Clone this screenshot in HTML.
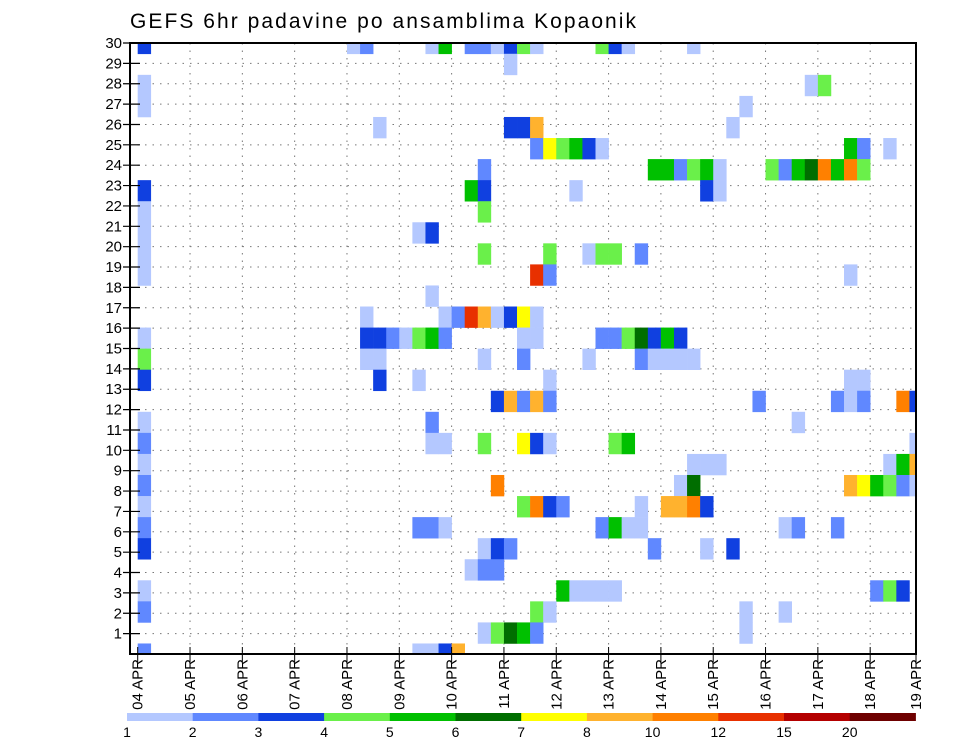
<!DOCTYPE html>
<html><head><meta charset="utf-8"><style>
html,body{margin:0;padding:0;background:#fff;}
svg{display:block;font-family:"Liberation Sans",sans-serif;}
</style></head><body>
<svg id="chart" width="960" height="742" viewBox="0 0 960 742" xmlns="http://www.w3.org/2000/svg">
<text x="130" y="28" font-size="21" fill="#000" textLength="506" lengthAdjust="spacing">GEFS 6hr padavine po ansamblima Kopaonik</text>
<defs><clipPath id="plotclip"><rect x="131" y="44" width="784" height="609"/></clipPath></defs>
<g id="grid"></g>
<g id="cells" clip-path="url(#plotclip)"></g>
<rect x="130" y="43" width="786" height="611" fill="none" stroke="#000" stroke-width="2"/>
<g id="yaxis"></g>
<g id="xaxis"></g>
<g id="cbar"></g>
</svg>
<script>
const members=[29,28,27,26,25,24,23,22,21,20,19,18,17,16,15,14,13,12,11,10,9,8,7,6,5,4,3,2,1,0];
const stepsByMember=[
[0,16,17,22,23,25,26,27,28,29,30,35,36,37,42],
[28],
[0,51,52],
[0,46],
[18,28,29,30,45],
[30,31,32,33,34,35,54,55,57],
[26,39,40,41,42,43,44,48,49,50,51,52,53,54,55],
[0,25,26,33,43,44],
[0,26],
[0,21,22],
[0,26,31,34,35,36,38],
[0,30,31,54],
[22],
[17,23,24,25,26,27,28,29,30],
[0,17,18,19,20,21,22,23,29,30,35,36,37,38,39,40,41],
[0,17,18,26,29,34,38,39,40,41,42],
[0,18,21,31,54,55],
[27,28,29,30,31,47,53,54,55,58,59],
[0,22,50],
[0,22,23,26,29,30,31,36,37,59],
[0,42,43,44,57,58,59],
[0,27,41,42,54,55,56,57,58,59],
[0,29,30,31,32,38,40,41,42,43],
[0,21,22,23,35,36,37,38,49,50,53],
[0,26,27,28,39,43,45],
[25,26,27],
[0,32,33,34,35,36,56,57,58],
[0,30,31,46,49],
[26,27,28,29,30,46],
[0,21,22,23,24]
];
const precipByMember=[
[3.5,1.5,2.5,1.5,5.5,2.5,2.5,1.5,3.5,4.5,1.5,4.5,3.5,1.5,1.5],
[1.5],
[1.5,1.5,4.5],
[1.5,1.5],
[1.5,3.5,3.5,9,1.5],
[2.5,7.5,4.5,5.5,3.5,1.5,5.5,2.5,1.5],
[2.5,5.5,5.5,2.5,4.5,5.5,1.5,4.5,2.5,5.5,6.5,11,5.5,11,4.5],
[3.5,5.5,3.5,1.5,3.5,1.5],
[1.5,4.5],
[1.5,1.5,3.5],
[1.5,4.5,4.5,1.5,4.5,4.5,2.5],
[1.5,13.5,2.5,1.5],
[1.5],
[1.5,1.5,2.5,13.5,9,1.5,3.5,7.5,1.5],
[1.5,3.5,3.5,2.5,1.5,4.5,5.5,2.5,1.5,1.5,2.5,2.5,4.5,6.5,3.5,5.5,3.5],
[4.5,1.5,1.5,1.5,2.5,1.5,2.5,1.5,1.5,1.5,1.5],
[3.5,3.5,1.5,1.5,1.5,1.5],
[3.5,9,2.5,9,2.5,2.5,2.5,1.5,2.5,11,3.5],
[1.5,2.5,1.5],
[2.5,1.5,1.5,4.5,7.5,3.5,1.5,4.5,5.5,1.5],
[1.5,1.5,1.5,1.5,1.5,5.5,9],
[2.5,11,1.5,6.5,9,7.5,5.5,4.5,2.5,1.5],
[1.5,4.5,11,3.5,2.5,1.5,9,9,11,3.5],
[2.5,2.5,2.5,1.5,2.5,5.5,1.5,1.5,1.5,2.5,2.5],
[3.5,1.5,3.5,2.5,2.5,1.5,3.5],
[1.5,2.5,2.5],
[1.5,5.5,1.5,1.5,1.5,1.5,2.5,4.5,3.5],
[2.5,4.5,1.5,1.5,1.5],
[1.5,4.5,6.5,5.5,2.5,1.5],
[2.5,1.5,1.5,3.5,9]
];
const levels=[1,2,3,4,5,6,7,8,10,12,15,20];
const levelLabels=["1","2","3","4","5","6","7","8","10","12","15","20"];
const levelColors=["#b4c8ff","#6088ff","#1040e0","#6af04a","#00c000","#006e00","#ffff00","#ffb22e","#ff8000","#e83000","#b40000","#6e0000"];
const yTicks=[1,2,3,4,5,6,7,8,9,10,11,12,13,14,15,16,17,18,19,20,21,22,23,24,25,26,27,28,29,30];
const dayLabels=["04","05","06","07","08","09","10","11","12","13","14","15","16","17","18","19"];

const NS="http://www.w3.org/2000/svg";
const X0=137.7, STEP=13.08, DAY=STEP*4;
function xStep(s){return X0+STEP*s;}
function xDay(d){return X0+DAY*d;}
function yMember(m){return 654-21.06*m;}
function yAxisVal(v){return 654-(611/30)*v;}
const CELLH=21.06;
function colorFor(v){let c=levelColors[0];for(let i=0;i<levels.length;i++){if(v>=levels[i])c=levelColors[i];}return c;}
function mk(tag,attrs,parent){const e=document.createElementNS(NS,tag);for(const k in attrs)e.setAttribute(k,attrs[k]);parent.appendChild(e);return e;}

const grid=document.getElementById('grid');
for(let v=0;v<=30;v++){
  const l=mk('line',{x1:130,x2:916,y1:yAxisVal(v),y2:yAxisVal(v),stroke:'#777','stroke-width':1,'stroke-dasharray':'1.5,6'},grid);
  
  
}
for(let d=1;d<dayLabels.length;d++){
  const x=xDay(d); if(x>916)continue;
  const l=mk('line',{x1:x,x2:x,y1:43,y2:654,stroke:'#777','stroke-width':1,'stroke-dasharray':'1.5,6'},grid);
  
  
}

const cells=document.getElementById('cells');
members.forEach((m,mi)=>{
  stepsByMember[mi].forEach((s,si)=>{
    const r=mk('rect',{x:xStep(s),y:yMember(m)-CELLH/2,width:STEP+0.3,height:CELLH+0.3,fill:colorFor(precipByMember[mi][si])},cells);
    
    
  });
});

const ya=document.getElementById('yaxis');
yTicks.forEach(v=>{
  const y=yAxisVal(v);
  const t=mk('line',{x1:123,x2:140,y1:y,y2:y,stroke:'#000','stroke-width':1.2},ya);
  
  
  const tx=mk('text',{x:122,y:y+5,'font-size':15,'text-anchor':'end',fill:'#000'},ya);
  tx.textContent=String(v);
  
  
});

const xa=document.getElementById('xaxis');
dayLabels.forEach((d,i)=>{
  let x=xDay(i); if(x>916)x=916;
  const t=mk('line',{x1:x,x2:x,y1:647,y2:662,stroke:'#000','stroke-width':1},xa);
  
  
  const tx=mk('text',{x:0,y:0,'font-size':15,'text-anchor':'end',fill:'#000',transform:'translate('+(x+5)+',659) rotate(-90)'},xa);
  tx.textContent=d+' APR';
  
  
});

const cb=document.getElementById('cbar');
const CBX=127, CBW=65.7;
levelColors.forEach((c,i)=>{
  const r=mk('rect',{x:CBX+CBW*i,y:713,width:CBW+0.5,height:8,fill:c},cb);
  
  
});
levelLabels.forEach((lab,i)=>{
  const t=mk('text',{x:CBX+CBW*i,y:737,'font-size':14,'text-anchor':'middle',fill:'#000'},cb);
  t.textContent=lab;
  
  
});
</script>
</body></html>
